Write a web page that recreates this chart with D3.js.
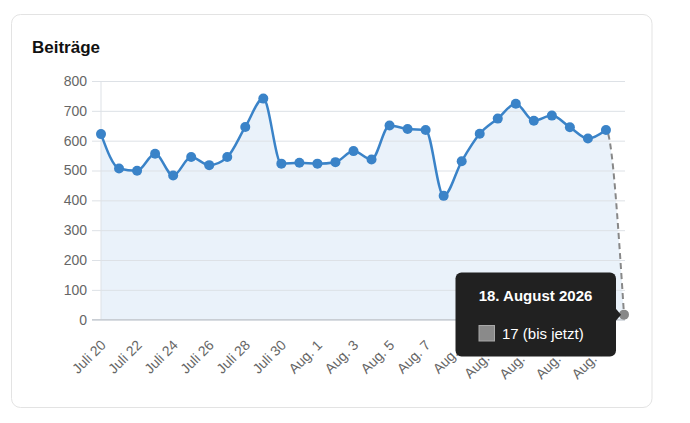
<!DOCTYPE html>
<html>
<head>
<meta charset="utf-8">
<script src="https://cdn.jsdelivr.net/npm/d3@7"></script>
<style>
  body { margin: 0; background: #fff; font-family: "Liberation Sans", Arial, sans-serif; }
</style>
</head>
<body>
<div id="container"></div>
<script>
const days = [
  "Juli 20", "Juli 21", "Juli 22", "Juli 23", "Juli 24", "Juli 25", "Juli 26",
  "Juli 27", "Juli 28", "Juli 29", "Juli 30", "Juli 31", "Aug. 1", "Aug. 2",
  "Aug. 3", "Aug. 4", "Aug. 5", "Aug. 6", "Aug. 7", "Aug. 8", "Aug. 9",
  "Aug. 10", "Aug. 11", "Aug. 12", "Aug. 13", "Aug. 14", "Aug. 15", "Aug. 16",
  "Aug. 17", "Aug. 18"
]

const posts = [
  622, 507, 499, 556, 483, 545, 518, 545, 646, 741,
  523, 526, 523, 528, 565, 537, 651, 639, 636, 415,
  531, 623, 674, 724, 667, 684, 645, 607, 636, 17
]

const yTicks = [0, 100, 200, 300, 400, 500, 600, 700, 800]
const tipTitle = "18. August 2026"
const tipText = "17 (bis jetzt)"

const width = 690
const height = 423
const blue = '#3a83c8'

const data = days.map((d, i) => ({ day: d, value: posts[i] }))
const full = data.slice(0, -1)

const x = d3.scalePoint(days, [101, 624])
const y = d3.scaleLinear([0, 800], [319.7, 81])

const svg = d3.select('#container')
  .append('svg')
  .attr('width', width)
  .attr('height', height)
  .attr('viewBox', [0, 0, width, height])

// card
svg.append('rect')
  .attr('x', 11.5).attr('y', 14.5)
  .attr('width', 640.5).attr('height', 393)
  .attr('rx', 9)
  .attr('fill', '#fff')
  .attr('stroke', '#e3e3e3')

svg.append('text')
  .attr('x', 32)
  .attr('y', 53)
  .attr('font-size', 17)
  .attr('font-weight', 'bold')
  .attr('fill', '#111')
  .text('Beiträge')

const curve = d3.curveMonotoneX
const line = d3.line().curve(curve).x(d => x(d.day)).y(d => y(d.value))

svg.append('path')
  .datum(data)
  .attr('fill', '#eaf2fa')
  .attr('d', d3.area().curve(curve)
    .x(d => x(d.day)).y0(y(0)).y1(d => y(d.value)))

// grid + y labels
svg.append('g')
  .attr('transform', 'translate(92,0)')
  .call(d3.axisLeft(y).tickValues(yTicks).tickSizeInner(-533).tickSizeOuter(0).tickPadding(5))
  .call(g => g.select('.domain').remove())
  .call(g => g.selectAll('line').attr('stroke', '#dde1e6'))
  .call(g => g.selectAll('text')
    .attr('font-family', '"Liberation Sans", Arial, sans-serif')
    .attr('font-size', 14).attr('fill', '#666'))

svg.append('line')
  .attr('x1', 101).attr('x2', 101)
  .attr('y1', y(800)).attr('y2', y(0))
  .attr('stroke', '#dde1e6')

svg.append('line')
  .attr('x1', 92).attr('x2', 625)
  .attr('y1', y(0)).attr('y2', y(0))
  .attr('stroke', '#c9ced4').attr('stroke-width', 1.5)

// x labels
svg.append('g')
  .attr('transform', `translate(0,${y(0)})`)
  .call(d3.axisBottom(x).tickValues(days.filter((d, i) => i % 2 === 0)).tickSize(0))
  .call(g => g.select('.domain').remove())
  .call(g => g.selectAll('text')
    .attr('font-family', '"Liberation Sans", Arial, sans-serif')
    .attr('font-size', 14).attr('fill', '#666')
    .attr('text-anchor', 'end')
    .attr('y', 0).attr('dy', '0.32em')
    .attr('transform', 'translate(2,23) rotate(-45)'))

// dashed last segment: whole curve clipped to last interval
const x0 = x(days[days.length - 2])
svg.append('clipPath').attr('id', 'lastSeg')
  .append('rect')
  .attr('x', x0).attr('y', 0)
  .attr('width', width - x0).attr('height', height)

svg.append('path')
  .datum(data)
  .attr('clip-path', 'url(#lastSeg)')
  .attr('fill', 'none')
  .attr('stroke', '#888')
  .attr('stroke-width', 2)
  .attr('stroke-dasharray', '6,4')
  .attr('d', line)

svg.append('path')
  .datum(full)
  .attr('fill', 'none')
  .attr('stroke', blue)
  .attr('stroke-width', 2.5)
  .attr('d', line)

svg.append('g')
  .selectAll('circle')
  .data(data)
  .join('circle')
  .attr('cx', d => x(d.day))
  .attr('cy', d => y(d.value))
  .attr('r', 5)
  .attr('fill', (d, i) => i === data.length - 1 ? '#888' : blue)

// tooltip
const last = data[data.length - 1]
const tip = svg.append('g')
tip.append('rect')
  .attr('x', 455.5).attr('y', 272.5)
  .attr('width', 160.5).attr('height', 84)
  .attr('rx', 6)
  .attr('fill', '#212121')
tip.append('path')
  .attr('d', `M615,${y(last.value) - 7}L621,${y(last.value)}L615,${y(last.value) + 7}Z`)
  .attr('fill', '#212121')
tip.append('text')
  .attr('x', 535.5).attr('y', 301)
  .attr('text-anchor', 'middle')
  .attr('font-size', 15).attr('font-weight', 'bold')
  .attr('fill', '#fff')
  .text(tipTitle)
tip.append('rect')
  .attr('x', 479).attr('y', 325.5)
  .attr('width', 15.5).attr('height', 15.5)
  .attr('fill', '#8a8a8a')
  .attr('stroke', '#a8a8a8')
tip.append('text')
  .attr('x', 502).attr('y', 339)
  .attr('font-size', 15)
  .attr('fill', '#fff')
  .text(tipText)
</script>
</body>
</html>
